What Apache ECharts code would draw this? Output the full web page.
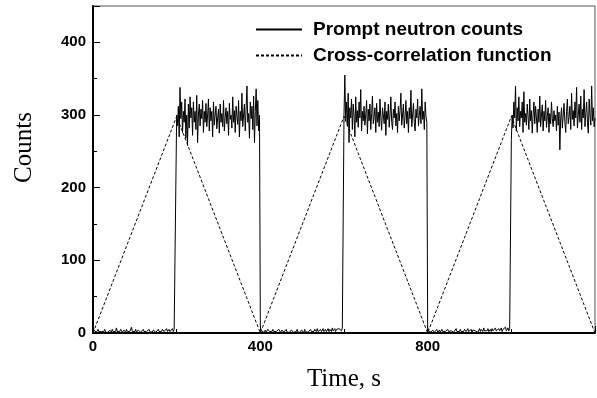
<!DOCTYPE html>
<html>
<head>
<meta charset="utf-8">
<script src="https://cdn.jsdelivr.net/npm/echarts@6/dist/echarts.min.js"></script>
<style>html,body{margin:0;padding:0;background:#fff;}#chart{width:597px;height:398px;}</style>
</head>
<body>
<div id="chart"></div>
<script>
// Time step of the prompt neutron count record (s)
const timeStep = 2;
// Prompt neutron counts, consecutive segments (each value 2 s apart)
const lowSeg1 = [9,4,2,3,1,2,5,2,1,3, 2,1,4,2,5,1,2,3,1,2, 4,2,1,5,2,3,1,2,7,2, 1,4,2,5,3,1,2,4,2,1, 5,2,3,1,2,4,8,2,1,3, 2,5,1,2,4,2,6,1,3,2, 5,2,1,4,2,3,1,5,2,4, 2,1,4,6,2,1,3,2,5,2, 4,1,2,5,3,2,1,4,6,2, 3,5,2,1,4,6,2,5,3,7];
const highSeg1 = [300,285,312,270,338,295,318,276,305,290, 322,268,300,258,315,282,325,296,310,272, 318,290,305,280,327,262,300,315,285,308, 295,320,276,305,290,316,284,300,322,278, 310,292,305,270,318,286,300,312,281,296, 308,275,315,290,302,284,320,278,297,310, 288,305,272,316,294,300,282,325,290,306, 276,312,298,287,320,270,305,292,330,284, 300,315,278,308,340,290,302,268,318,295, 312,280,326,262,305,336,285,320,278,300];
const lowSeg2 = [9,3,2,5,1,2,4,1,2,5, 3,2,1,4,2,5,2,1,3,2, 1,2,5,3,1,2,4,2,1,3, 2,5,1,3,2,1,2,4,5,2, 1,3,2,2,5,1,3,2,1,4, 2,3,1,5,2,4,2,1,3,2, 5,2,3,1,2,5,3,2,6,2, 3,1,5,2,4,6,2,3,5,2, 4,6,2,5,3,2,7,3,5,6, 2,5,7,3,6,4,8,3,7,6];
const highSeg2 = [300,355,292,318,285,330,262,310,296,322, 280,315,300,270,325,290,306,283,318,296, 335,278,305,292,312,286,300,320,274,308, 292,315,280,302,326,288,298,310,276,316, 290,304,284,322,296,279,310,300,288,318, 272,305,294,315,283,300,325,290,280,308, 296,318,285,302,276,312,292,306,330,286, 300,315,282,298,320,288,305,276,310,295, 334,284,300,316,290,278,308,296,322,285, 300,312,288,336,294,305,280,318,298,290];
const lowSeg3 = [8,3,2,5,1,2,4,2,1,3, 2,5,1,2,4,1,2,5,2,1, 3,2,1,4,5,2,1,2,3,2, 5,1,3,2,6,2,1,4,2,5, 2,3,1,2,5,3,2,1,6,2, 3,2,5,1,4,2,6,3,2,5, 1,3,6,2,5,3,2,7,3,2, 5,3,6,2,4,5,2,6,3,5, 2,7,3,5,2,6,3,4,7,2, 5,3,6,8,3,5,7,3,6,8];
const highSeg3 = [265,300,282,318,296,340,278,310,292,325, 284,305,296,318,276,332,290,302,286,315, 298,280,322,292,306,275,300,318,288,312, 296,276,308,290,326,284,300,314,278,305, 292,320,283,298,310,276,302,288,318,295, 284,306,292,300,278,312,286,304,252,296, 310,282,300,316,290,276,305,322,288,298, 312,280,330,294,306,285,318,296,338,282, 300,315,290,326,280,308,296,335,284,302, 318,290,275,322,300,286,340,292,310,284, 296];

// Cross-correlation function (triangular)
const corrTime = [0,200,400,600,800,1000,1200];
const corrValues = [0,298,0,298,0,298,0];

// Axis ticks
const xTicks = {min:0, max:1200, interval:400};
const yTicks = {min:0, max:450, interval:100};

const seriesNames = ['Prompt neutron counts','Cross-correlation function'];

const neutronValues = [].concat(lowSeg1, highSeg1, lowSeg2, highSeg2, lowSeg3, highSeg3);
const neutronData = neutronValues.map((v,i)=>[i*timeStep, v]);
const corrData = corrTime.map((t,i)=>[t, corrValues[i]]);

const chart = echarts.init(document.getElementById('chart'), null, {renderer:'canvas'});
const sansBold = {fontFamily:'Arial, "Liberation Sans", sans-serif', fontWeight:'bold', color:'#000'};
chart.setOption({
  animation:false,
  backgroundColor:'#fff',
  grid:{left:93, right:2, top:6, bottom:65, show:true, borderColor:'#555', borderWidth:1, backgroundColor:'transparent'},
  legend:{
    orient:'vertical', left:250, top:15, itemWidth:46, itemHeight:14, itemGap:7,
    data:seriesNames,
    itemStyle:{opacity:0},
    textStyle:Object.assign({fontSize:19, padding:[0,0,0,6]}, sansBold)
  },
  xAxis:{
    type:'value', min:xTicks.min, max:xTicks.max, interval:xTicks.interval,
    name:'Time, s', nameLocation:'middle', nameGap:34,
    nameTextStyle:{fontFamily:'"Times New Roman", "Liberation Serif", serif', fontSize:25, color:'#000'},
    axisLine:{lineStyle:{color:'#000', width:2}},
    axisTick:{inside:true, length:7, lineStyle:{color:'#000', width:1}},
    minorTick:{show:true, splitNumber:2, length:4, lineStyle:{color:'#000'}},
    axisLabel:Object.assign({fontSize:15, margin:6, showMaxLabel:false}, sansBold),
    splitLine:{show:false}
  },
  yAxis:{
    type:'value', min:yTicks.min, max:yTicks.max, interval:yTicks.interval,
    name:'Counts', nameLocation:'middle', nameGap:56,
    nameTextStyle:{fontFamily:'"Times New Roman", "Liberation Serif", serif', fontSize:25, color:'#000', padding:[0,0,0,44]},
    axisLine:{lineStyle:{color:'#000', width:2}},
    axisTick:{inside:true, length:7, lineStyle:{color:'#000', width:1}},
    minorTick:{show:true, splitNumber:2, length:4, lineStyle:{color:'#000'}},
    axisLabel:Object.assign({fontSize:15, margin:7, showMaxLabel:false}, sansBold),
    splitLine:{show:false}
  },
  series:[
    {name:seriesNames[0], type:'line', data:neutronData, symbol:'none', z:3,
     lineStyle:{color:'#000', width:1}, itemStyle:{color:'#000'}},
    {name:seriesNames[1], type:'line', data:corrData, symbol:'none', z:2,
     lineStyle:{color:'#000', width:1, type:[3,2]}, itemStyle:{color:'#000'}}
  ]
});
</script>
</body>
</html>
